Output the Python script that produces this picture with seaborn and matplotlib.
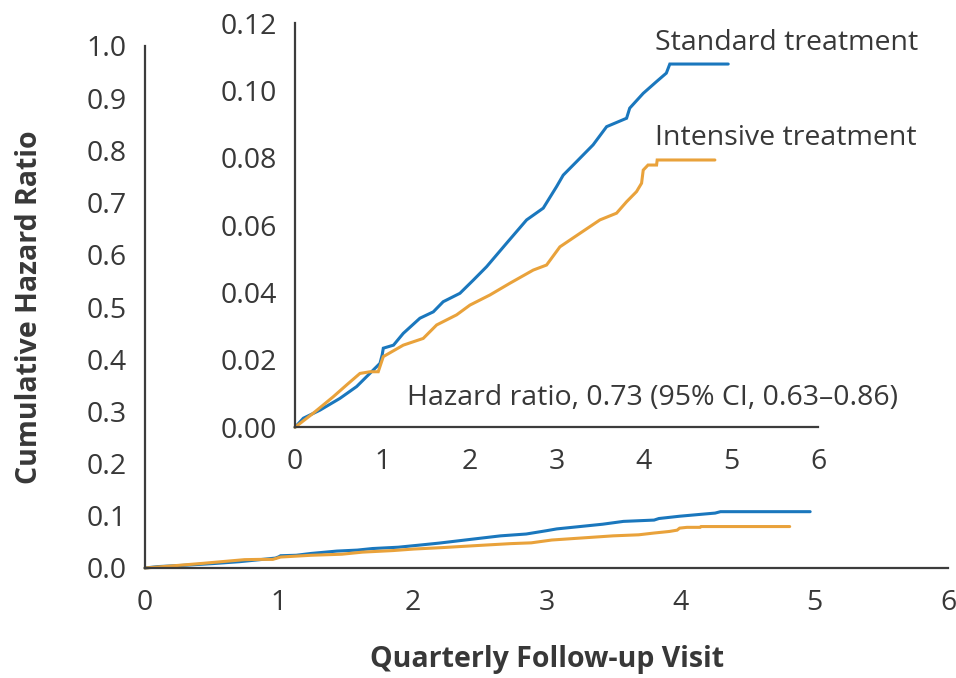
import numpy as np
import pandas as pd
import matplotlib
matplotlib.use("Agg")
import matplotlib.pyplot as plt
import seaborn as sns

# ---- data ----
std_x = [0.0, 0.096, 0.287, 0.516, 0.707, 0.975, 1.0, 1.013, 1.13, 1.242, 1.433, 1.587, 1.70,
         1.892, 2.045, 2.198, 2.428, 2.657, 2.848, 3.001, 3.077, 3.23, 3.42, 3.575,
         3.804, 3.84, 3.995, 4.148, 4.26, 4.30, 4.97]
std_y = [0.0, 0.0027, 0.0051, 0.0086, 0.0121, 0.0190, 0.0215, 0.0235, 0.0244, 0.0279, 0.0324,
         0.0343, 0.0373, 0.0398, 0.0437, 0.0477, 0.0547, 0.0616, 0.0651, 0.0715, 0.0749,
         0.0789, 0.0839, 0.0893, 0.0918, 0.0948, 0.0992, 0.1027, 0.1052, 0.1079, 0.1079]

int_x = [0.0, 0.21, 0.44, 0.593, 0.745, 0.86, 0.955, 1.013, 1.242, 1.471, 1.625, 1.854,
         2.007, 2.236, 2.466, 2.733, 2.886, 3.039, 3.268, 3.498, 3.689, 3.804, 3.918,
         3.976, 3.995, 4.05, 4.148, 4.155, 4.817]
int_y = [0.0, 0.0042, 0.0091, 0.0126, 0.0160, 0.0165, 0.0165, 0.0210, 0.0244, 0.0264,
         0.0304, 0.0334, 0.0363, 0.0393, 0.0428, 0.0467, 0.0482, 0.0536, 0.0576, 0.0616,
         0.0636, 0.0670, 0.0700, 0.0725, 0.0764, 0.0779, 0.0779, 0.0794, 0.0794]

groups = ["Standard treatment", "Intensive treatment"]
colors = {"Standard treatment": "#1a77bd", "Intensive treatment": "#e9a23b"}
main_yticks = [0.0, 0.1, 0.2, 0.3, 0.4, 0.5, 0.6, 0.7, 0.8, 0.9, 1.0]
inset_yticks = [0.0, 0.02, 0.04, 0.06, 0.08, 0.10, 0.12]
xticks = [0, 1, 2, 3, 4, 5, 6]
hr_text = "Hazard ratio, 0.73 (95% CI, 0.63\u20130.86)"

df = pd.concat([
    pd.DataFrame({"visit": std_x, "chr": std_y, "group": groups[0]}),
    pd.DataFrame({"visit": int_x, "chr": int_y, "group": groups[1]}),
], ignore_index=True)

sns.set_theme(style="white")
TXT = "#383838"
plt.rcParams["font.family"] = ["Open Sans", "DejaVu Sans"]
plt.rcParams["text.color"] = TXT
plt.rcParams["axes.edgecolor"] = "#3c3c3c"
plt.rcParams["xtick.color"] = "#3c3c3c"
plt.rcParams["ytick.color"] = "#3c3c3c"
plt.rcParams["xtick.labelcolor"] = TXT
plt.rcParams["ytick.labelcolor"] = TXT

fig = plt.figure(figsize=(9.56, 6.78), dpi=100)
ax = fig.add_axes([145/956, 1-568/678, (948-145)/956, (568-46)/678])
ins = fig.add_axes([295/956, 1-427.3/678, (818-295)/956, (427.3-23.3)/678])

FS = 20.5

def style(a, yt, yfmt, ypad):
    a.set_xlim(0, 6)
    a.set_xticks(xticks)
    a.set_yticks(yt)
    a.set_yticklabels([yfmt.format(v) for v in yt])
    a.set_ylim(yt[0], yt[-1])
    for s in ["top", "right"]:
        a.spines[s].set_visible(False)
    for s in ["left", "bottom"]:
        a.spines[s].set_linewidth(1.6)
    a.tick_params(axis="both", direction="out", length=10, width=1.6, labelsize=FS)
    a.tick_params(axis="x", pad=5)
    a.tick_params(axis="y", pad=ypad)
    a.set_xlabel("")
    a.set_ylabel("")
    a.patch.set_alpha(0)

for a in (ax, ins):
    sns.lineplot(data=df, x="visit", y="chr", hue="group", palette=colors,
                 estimator=None, sort=False, linewidth=2.2, legend=False, ax=a)
    for ln in a.lines:
        ln.set_clip_on(False)
        ln.set_solid_joinstyle("miter")

style(ax, main_yticks, "{:.1f}", 3)
style(ins, inset_yticks, "{:.2f}", 3)

ins.text(4.13, 0.1142, groups[0], fontsize=FS, color=TXT, ha="left", va="center")
ins.text(4.13, 0.0859, groups[1], fontsize=FS, color=TXT, ha="left", va="center")
ins.text(1.284, 0.0087, hr_text, fontsize=FS, color=TXT, ha="left", va="center")

fig.text(30/956, 1-307.5/678, "Cumulative Hazard Ratio", rotation=90, fontsize=FS,
         fontweight="bold", color=TXT, ha="center", va="center")
fig.text(547/956, 1-660/678, "Quarterly Follow-up Visit", fontsize=FS,
         fontweight="bold", color=TXT, ha="center", va="center")

fig.savefig("out.png", dpi=100, facecolor="white")
